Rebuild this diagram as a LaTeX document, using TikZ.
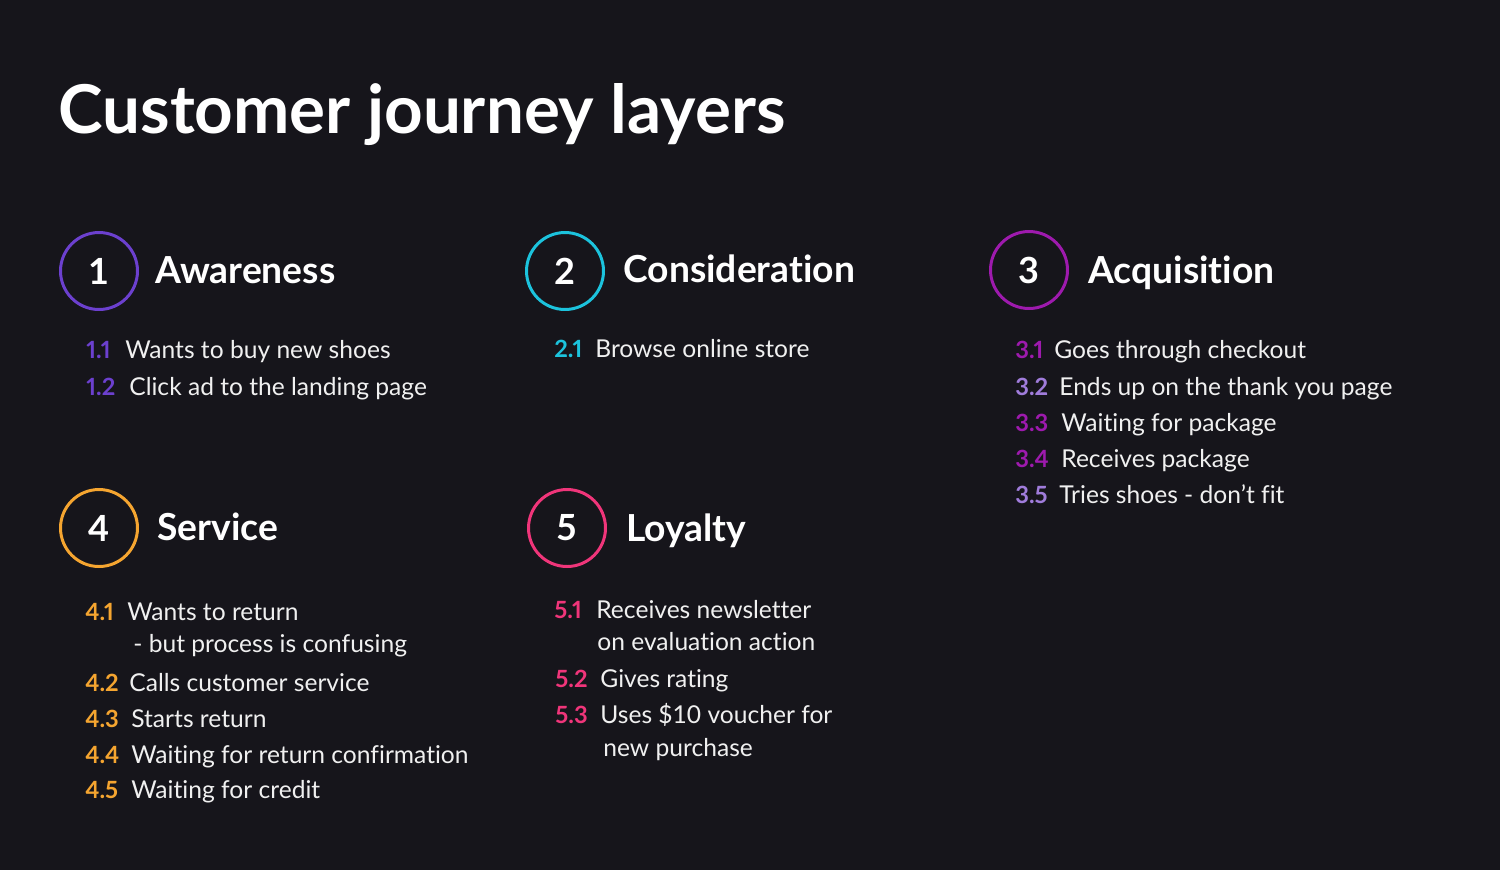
\documentclass[tikz,border=0pt]{standalone}
\usepackage{fontspec}
\setmainfont{Lato}[Ligatures=NoCommon]
\usetikzlibrary{positioning}
\definecolor{bgdark}{HTML}{16151B}
\definecolor{violet1}{HTML}{6C40CF}
\definecolor{cyan2}{HTML}{1CC3DD}
\definecolor{magenta3}{HTML}{9E1AAE}
\definecolor{lav3}{HTML}{A07CDB}
\definecolor{orange4}{HTML}{F5A530}
\definecolor{pink5}{HTML}{F0357A}
\tikzset{
  ring/.style={draw,circle,line width=1.7pt,minimum size=1.54cm,inner sep=0pt,text=white,font=\fontsize{20.5}{24}\selectfont\bfseries},
  head/.style={anchor=base west,inner sep=0pt,text=white,font=\fontsize{21.2}{25}\selectfont\bfseries},
  num/.style={anchor=base west,inner sep=0pt,font=\fontsize{13.5}{16}\selectfont\bfseries\addfontfeatures{Numbers=Proportional}},
  item/.style={anchor=base west,inner sep=0pt,text=white!94!black,font=\fontsize{14}{17}\selectfont},
}
\begin{document}
\begin{tikzpicture}[x=0.02cm,y=-0.02cm]
  \fill[bgdark] (0,0) rectangle (1500,870);
  \useasboundingbox (0,0) rectangle (1500,870);
  \node[anchor=base west,inner sep=0pt,text=white,font=\fontsize{38.3}{44}\selectfont\bfseries] (title) at (58,133) {Customer journey layers};

  \node[ring,violet1] (c1) at (99,271) {\textcolor{white}{1}};
  \node[head] (h1) at (155,283) {Awareness};
  \node[num,violet1] (n11) at (86,358) {1.1};
  \node[item] (t11) at (125,358) {Wants to buy new shoes};
  \node[num,violet1] (n12) at (86,395) {1.2};
  \node[item] (t12) at (129,395) {Click ad to the landing page};

  \node[ring,cyan2] (c2) at (565,271) {\textcolor{white}{2}};
  \node[head] (h2) at (623,282) {Consideration};
  \node[num,cyan2] (n21) at (554,357) {2.1};
  \node[item] (t21) at (595,357) {Browse online store};

  \node[ring,magenta3] (c3) at (1029,270) {\textcolor{white}{3}};
  \node[head] (h3) at (1088,283) {Acquisition};
  \node[num,magenta3] (n31) at (1015,358) {3.1};
  \node[item] (t31) at (1054,358) {Goes through checkout};
  \node[num,lav3] (n32) at (1015,395) {3.2};
  \node[item] (t32) at (1059,395) {Ends up on the thank you page};
  \node[num,magenta3] (n33) at (1015,431) {3.3};
  \node[item] (t33) at (1061,431) {Waiting for package};
  \node[num,magenta3] (n34) at (1015,467) {3.4};
  \node[item] (t34) at (1061,467) {Receives package};
  \node[num,lav3] (n35) at (1015,503) {3.5};
  \node[item] (t35) at (1059,503) {Tries shoes - don’t fit};

  \node[ring,orange4] (c4) at (99,528) {\textcolor{white}{4}};
  \node[head] (h4) at (157,540) {Service};
  \node[num,orange4] (n41) at (85,620) {4.1};
  \node[item] (t41) at (127,620) {Wants to return};
  \node[item] (t41b) at (133,652) {- but process is confusing};
  \node[num,orange4] (n42) at (85,691) {4.2};
  \node[item] (t42) at (129,691) {Calls customer service};
  \node[num,orange4] (n43) at (85,727) {4.3};
  \node[item] (t43) at (131,727) {Starts return};
  \node[num,orange4] (n44) at (85,763) {4.4};
  \node[item] (t44) at (131,763) {Waiting for return confirmation};
  \node[num,orange4] (n45) at (85,798) {4.5};
  \node[item] (t45) at (131,798) {Waiting for credit};

  \node[ring,pink5] (c5) at (567,528) {\textcolor{white}{5}};
  \node[head] (h5) at (626,541) {Loyalty};
  \node[num,pink5] (n51) at (554,618) {5.1};
  \node[item] (t51) at (596,618) {Receives newsletter};
  \node[item] (t51b) at (597,650) {on evaluation action};
  \node[num,pink5] (n52) at (555,687) {5.2};
  \node[item] (t52) at (600,687) {Gives rating};
  \node[num,pink5] (n53) at (555,723) {5.3};
  \node[item] (t53) at (600,723) {Uses \$10 voucher for};
  \node[item] (t53b) at (603,756) {new purchase};
\end{tikzpicture}
\end{document}
